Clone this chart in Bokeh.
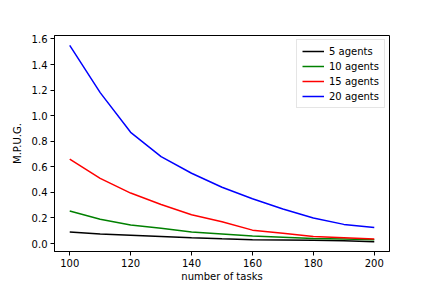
from bokeh.plotting import figure
from bokeh.embed import file_html
from bokeh.resources import INLINE
from bokeh.models import Range1d, Legend, LegendItem, CustomJSTickFormatter

tasks = [100, 110, 120, 130, 140, 150, 160, 170, 180, 190, 200]
agents5 = [0.09, 0.075, 0.065, 0.055, 0.045, 0.037, 0.03, 0.028, 0.025, 0.022, 0.015]
agents10 = [0.255, 0.19, 0.145, 0.12, 0.09, 0.075, 0.06, 0.05, 0.04, 0.035, 0.03]
agents15 = [0.66, 0.51, 0.395, 0.305, 0.225, 0.17, 0.105, 0.08, 0.055, 0.045, 0.035]
agents20 = [1.55, 1.18, 0.87, 0.68, 0.55, 0.44, 0.35, 0.27, 0.20, 0.15, 0.125]
series_names = ["5 agents", "10 agents", "15 agents", "20 agents"]
series_colors = ["black", "green", "red", "blue"]
x_ticks = [100, 120, 140, 160, 180, 200]
y_ticks = [0.0, 0.2, 0.4, 0.6, 0.8, 1.0, 1.2, 1.4, 1.6]

p = figure(width=420, height=284, output_backend="svg", toolbar_location=None,
           x_range=Range1d(95, 205), y_range=Range1d(-0.062, 1.627),
           min_border_left=54, min_border_right=31, min_border_top=35, min_border_bottom=20)
p.xgrid.visible = False
p.ygrid.visible = False
p.outline_line_color = "black"
p.outline_line_width = 1
p.background_fill_color = "white"
p.border_fill_color = "white"

items = []
for ys, name, col in zip([agents5, agents10, agents15, agents20], series_names, series_colors):
    r = p.line(tasks, ys, line_color=col, line_width=1.5)
    items.append(LegendItem(label=name, renderers=[r]))

legend = Legend(items=items, location="top_right")
legend.label_text_font = "DejaVu Sans"
legend.label_text_font_size = "10px"
legend.label_text_color = "black"
legend.label_height = 12
legend.glyph_height = 12
legend.glyph_width = 22
legend.spacing = 3
legend.padding = 5
legend.margin = 4
legend.border_line_color = "#cccccc"
legend.border_line_width = 1
p.add_layout(legend)

for ax in (p.xaxis[0], p.yaxis[0]):
    ax.major_label_text_font = "DejaVu Sans"
    ax.major_label_text_font_size = "10px"
    ax.major_label_text_color = "black"
    ax.axis_label_text_font = "DejaVu Sans"
    ax.axis_label_text_font_size = "10px"
    ax.axis_label_text_font_style = "normal"
    ax.axis_label_text_color = "black"
    ax.minor_tick_line_color = None
    ax.major_tick_out = 4
    ax.major_tick_in = 0
    ax.axis_line_color = "black"
    ax.major_label_standoff = 3

p.xaxis.ticker = x_ticks
p.yaxis.ticker = y_ticks
p.yaxis.formatter = CustomJSTickFormatter(code="return tick.toFixed(1);")
p.xaxis.axis_label = "number of tasks"
p.yaxis.axis_label = "M.P.U.G."
p.xaxis.axis_label_standoff = 1
p.yaxis.axis_label_standoff = 6

open("out.html", "w").write(file_html(p, INLINE))
